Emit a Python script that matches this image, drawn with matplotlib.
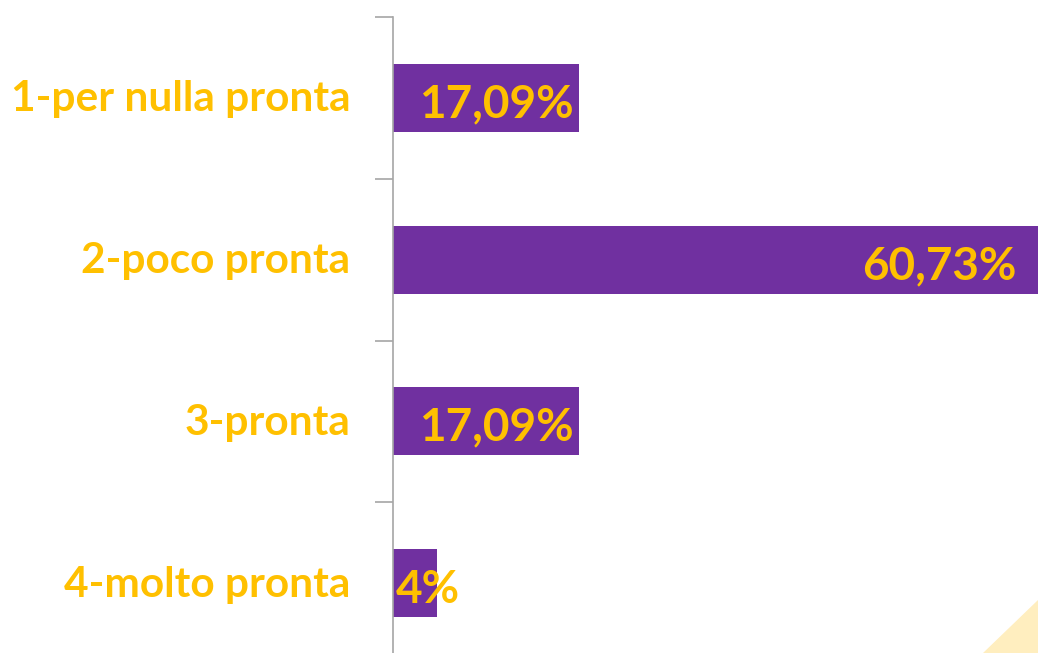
import numpy as np
import matplotlib.pyplot as plt
from matplotlib.patches import Polygon

categorie = ['1-per nulla pronta', '2-poco pronta', '3-pronta', '4-molto pronta']
valori = [17.09, 60.73, 17.09, 4.0]
etichette = ['17,09%', '60,73%', '17,09%', '4%']

viola = '#7030A0'
oro = '#FFC000'

plt.rcParams['font.family'] = ['Lato', 'DejaVu Sans']

fig = plt.figure(figsize=(10.38, 6.53), dpi=100)
ax = fig.add_axes([393/1038, -11/653, 645/1038, 647/653])
ax.patch.set_visible(False)

y = np.arange(len(categorie))
ax.barh(y, valori, height=0.42, color=viola)
ax.set_ylim(len(categorie) - 0.5, -0.5)
ax.set_xlim(0, 59.3)

# etichette valori, vicino alla fine della barra
for yi, v, s in zip(y, valori, etichette):
    xe = min(v, ax.get_xlim()[1] - 1.5)
    t = ax.text(xe - 0.5, yi + 0.04, s, ha='right', va='center',
                color=oro, fontsize=33, fontweight='bold', clip_on=False)
    if v < 5:
        t.set_ha('left')
        t.set_x(0.3)

ax.set_yticks(np.arange(len(categorie) + 1) - 0.5)
ax.set_yticklabels([])
ax.tick_params(axis='y', length=13, color='#A6A6A6', width=1.2)
for yi, c in zip(y, categorie):
    ax.text(-3.9, yi + 0.01, c, ha='right', va='center', color=oro,
            fontsize=30.5, fontweight='bold')

ax.set_xticks([])
for s in ['top', 'right', 'bottom']:
    ax.spines[s].set_visible(False)
ax.spines['left'].set_color('#A6A6A6')
ax.spines['left'].set_linewidth(1.2)

# triangolo decorativo in basso a destra
fig.patches.append(Polygon([[983/1038, 0], [1, 0], [1, 53/653]], closed=True,
                           transform=fig.transFigure, color='#FFEEBF', zorder=-1))

fig.savefig('out.png', dpi=100)
